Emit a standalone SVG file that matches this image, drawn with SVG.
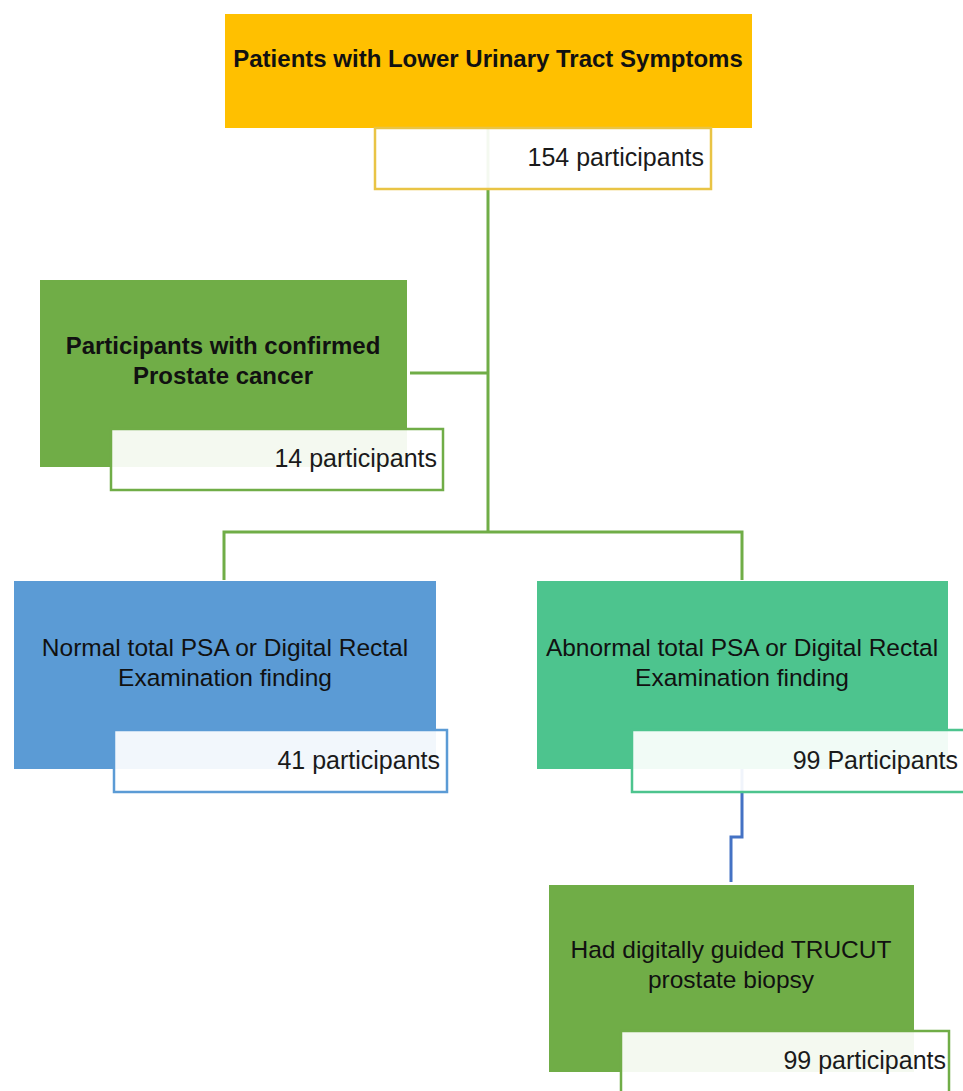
<svg xmlns="http://www.w3.org/2000/svg" width="963" height="1091" viewBox="0 0 963 1091">
<style>
text{font-family:"Liberation Sans",Arial,sans-serif;fill:#111}
.h{font-size:24px;font-weight:bold;text-anchor:middle}
.n{font-size:24.5px;text-anchor:middle}
.c{font-size:25px;text-anchor:end;fill:#1a1a1a}
.lbl{fill:#fff;fill-opacity:0.92;stroke-width:2.5}
.con{fill:none;stroke-width:3}
</style>
<rect width="963" height="1091" fill="#fff"/>
<g id="connectors">
<path class="con" stroke="#70AD47" d="M488 128V532M410 373H488M224 580V532H742V580"/>
<path class="con" stroke="#4472C4" d="M742 769V837H731V882"/>
</g>
<g id="n-lut">
<rect x="225" y="14" width="527" height="114" fill="#FFC000"/>
<text class="h" x="488" y="67">Patients with Lower Urinary Tract Symptoms</text>
<rect class="lbl" x="375" y="128" width="336" height="61" stroke="#E9C445"/>
<text class="c" x="704" y="166">154 participants</text>
</g>
<g id="n-cancer">
<rect x="40" y="280" width="367" height="187" fill="#70AD47"/>
<text class="h" x="223" y="354">Participants with confirmed</text>
<text class="h" x="223" y="384">Prostate cancer</text>
<rect class="lbl" x="111" y="429" width="332" height="61" stroke="#70AD47"/>
<text class="c" x="437" y="467">14 participants</text>
</g>
<g id="n-normal">
<rect x="14" y="581" width="422" height="188" fill="#5B9BD5"/>
<text class="n" x="225" y="656">Normal total PSA or Digital Rectal</text>
<text class="n" x="225" y="686">Examination finding</text>
<rect class="lbl" x="114" y="730" width="333" height="62" stroke="#5B9BD5"/>
<text class="c" x="440" y="769">41 participants</text>
</g>
<g id="n-abnormal">
<rect x="537" y="581" width="411" height="188" fill="#4DC48E"/>
<text class="n" x="742" y="656">Abnormal total PSA or Digital Rectal</text>
<text class="n" x="742" y="686">Examination finding</text>
<rect class="lbl" x="632" y="730" width="334" height="62" stroke="#4DC48E"/>
<text class="c" x="958" y="769">99 Participants</text>
</g>
<g id="n-biopsy">
<rect x="549" y="885" width="365" height="187" fill="#70AD47"/>
<text class="n" x="731" y="958">Had digitally guided TRUCUT</text>
<text class="n" x="731" y="988">prostate biopsy</text>
<rect class="lbl" x="621" y="1031" width="328" height="70" stroke="#70AD47"/>
<text class="c" x="946" y="1069">99 participants</text>
</g>
</svg>
